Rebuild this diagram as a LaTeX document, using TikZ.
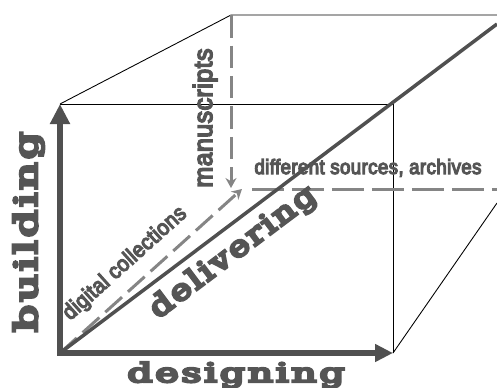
\documentclass[tikz,border=0pt]{standalone}
\usepackage{fontspec}
\usepackage{xcolor}
\usepackage{graphicx}
\usetikzlibrary{arrows.meta,positioning}

\newfontfamily\heavyfont{DejaVu Serif}[FakeBold=9,LetterSpace=8]
\newfontfamily\narrowfont{Liberation Sans}[FakeBold=6,LetterSpace=2]
\definecolor{axisgray}{HTML}{505050}
\definecolor{dashgray}{HTML}{858585}
\definecolor{inkgray}{HTML}{555555}
% label squeezed to a given width and height
\newcommand{\fitlabel}[4]{\resizebox{#1}{#2}{#3\textcolor{inkgray}{#4}}}

\begin{document}
\begin{tikzpicture}[
    x=0.02cm, y=-0.02cm,
    frame/.style={draw=black, line width=0.5pt},
    axis/.style={draw=axisgray, line width=0.12cm, {Triangle[length=0.40cm,width=0.38cm]}-{Triangle[length=0.36cm,width=0.34cm]}},
    hidden/.style={draw=dashgray, line width=0.06cm, dash pattern=on 0.45cm off 0.16cm},
    hiddenarrow/.style={hidden, -{Stealth[length=0.2cm,width=0.22cm]}},
    mainline/.style={draw=axisgray, line width=0.07cm},
    word/.style={inner sep=0pt, anchor=base}
]
\useasboundingbox (0,0) rectangle (497,387);

% Corners
\coordinate (O) at (60,353);
\coordinate (A) at (60,104);
\coordinate (B) at (393,353);
\coordinate (C) at (393,104);
\coordinate (D) at (231,15);
\coordinate (E) at (497,15);
\coordinate (F) at (497,203);
\coordinate (G) at (497,24);
\coordinate (M) at (231,188);
\coordinate (N) at (242,189);
\coordinate (P) at (252,189);
\coordinate (Q) at (497,189);

% Box edges
\draw[frame] (A) -- (C) -- (B);
\draw[frame] (A) -- (D) -- (E);
\draw[frame] (B) -- (F);

% Hidden directions
\draw[hiddenarrow] (D) -- (M);
\draw[hiddenarrow] (O) -- (N);
\draw[hidden, dash pattern=on 0.64cm off 0.16cm] (P) -- (Q);

% Main diagonal and axes
\draw[mainline] (O) -- (G);
\draw[axis] (A) -- (O) -- (B);

% Labels
\node[word, rotate=90] (building) at (37,232) {\fitlabel{4.0cm}{0.48cm}{\heavyfont}{building}};
\node[word] (designing) at (236,382) {\fitlabel{4.34cm}{0.40cm}{\heavyfont}{designing}};
\node[word, rotate=37] (delivering) at (238,259) {\fitlabel{4.0cm}{0.44cm}{\heavyfont}{delivering}};
\node[word, rotate=42] (digital) at (129,268) {\fitlabel{3.16cm}{0.32cm}{\narrowfont}{digital collections}};
\node[word, rotate=90] (manuscripts) at (212,118) {\fitlabel{2.78cm}{0.38cm}{\narrowfont}{manuscripts}};
\node[word] (sources) at (368,174) {\fitlabel{4.54cm}{0.30cm}{\narrowfont}{different sources, archives}};

\end{tikzpicture}
\end{document}
